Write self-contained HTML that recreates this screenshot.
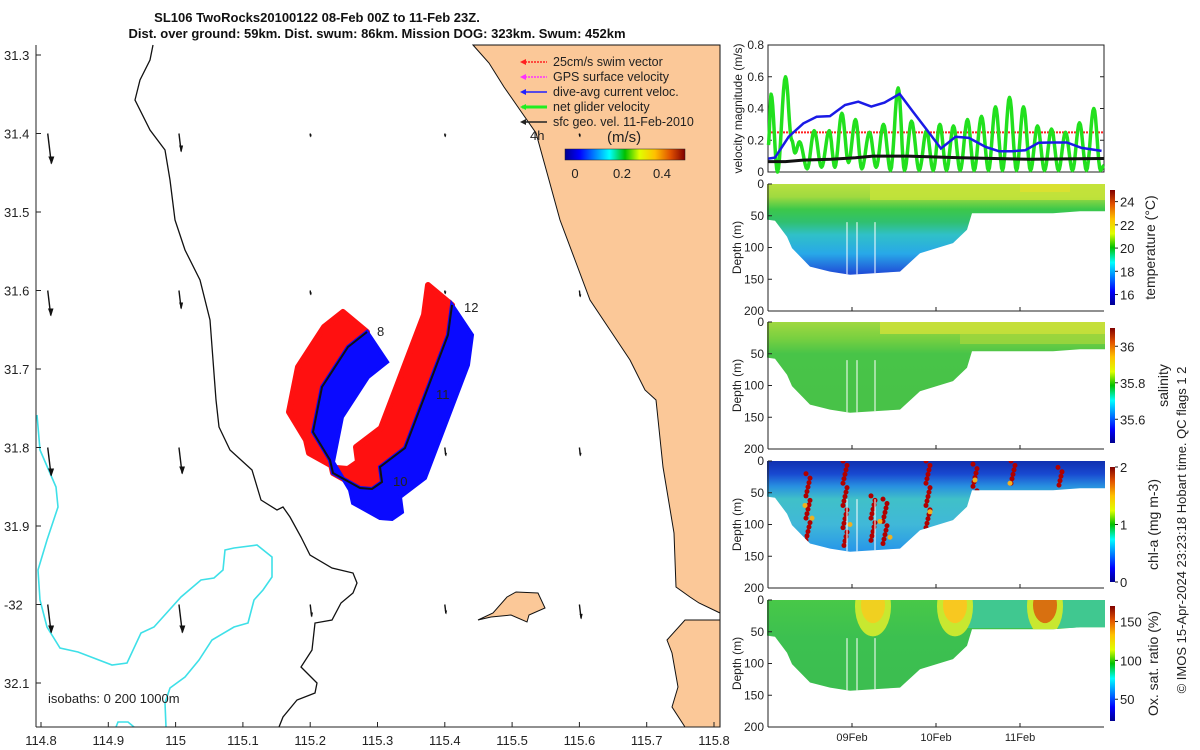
<!DOCTYPE html>
<html><head><meta charset="utf-8"><style>
html,body{margin:0;padding:0;background:#fff;}
svg{display:block;font-family:"Liberation Sans","DejaVu Sans",sans-serif;}
.t{font-size:12px;fill:#222;}
.tm{font-size:13px;fill:#222;}
</style></head><body>
<svg id="fig" width="1200" height="750" viewBox="0 0 1200 750">
<defs>
<linearGradient id="jet" x1="0" y1="1" x2="0" y2="0">
<stop offset="0" stop-color="#00008f"/><stop offset="0.12" stop-color="#0000ff"/><stop offset="0.37" stop-color="#00ffff"/><stop offset="0.5" stop-color="#00c000"/><stop offset="0.62" stop-color="#e0ff00"/><stop offset="0.75" stop-color="#ffc000"/><stop offset="0.88" stop-color="#e05000"/><stop offset="1" stop-color="#800000"/>
</linearGradient>
<linearGradient id="jeth" x1="0" y1="0" x2="1" y2="0">
<stop offset="0" stop-color="#00008f"/><stop offset="0.12" stop-color="#0000ff"/><stop offset="0.37" stop-color="#00ffff"/><stop offset="0.5" stop-color="#00c000"/><stop offset="0.62" stop-color="#e0ff00"/><stop offset="0.75" stop-color="#ffc000"/><stop offset="0.88" stop-color="#e05000"/><stop offset="1" stop-color="#800000"/>
</linearGradient>
</defs>

<text x="317" y="22" text-anchor="middle" font-size="13" font-weight="bold" fill="#111">SL106 TwoRocks20100122 08-Feb 00Z to 11-Feb 23Z.</text>
<text x="377" y="38" text-anchor="middle" font-size="13" font-weight="bold" fill="#111">Dist. over ground: 59km. Dist. swum: 86km. Mission DOG: 323km. Swum: 452km</text>

<g id="map"></g>
<g id="vel"></g>
<g id="sec"></g>

<text transform="translate(1186,530) rotate(-90)" text-anchor="middle" font-size="13" fill="#222">© IMOS 15-Apr-2024 23:23:18 Hobart time. QC flags 1  2</text>
</svg>
<script>
// ---------- velocity data ----------
const greenHours=[0.1,0.9,2.7,5,6.8,7.7,9,11.2,13.2,15.3,17.5,19.1,21.1,23,25,26.8,29,30.9,33,35,37.2,39,41,43.2,45.3,47.2,49.1,51,53,54.9,57,58.9,61,63,65,67,69,71,73,75,77,79,81,83,85,87,89,91,93.1,95,96];
const greenVals=[0.17,0.49,0,0.6,0.2,0.12,0.19,0.02,0.26,0.03,0.26,0.03,0.37,0.06,0.33,0.02,0.25,0.03,0.3,0.01,0.53,0.01,0.32,0.01,0.26,0.01,0.3,0.01,0.29,0.01,0.33,0.01,0.35,0.01,0.41,0.01,0.47,0.01,0.41,0.01,0.29,0.01,0.27,0.01,0.25,0.01,0.31,0.01,0.4,0.01,0.04];
const blueHours=[0.1,2,5.9,10.1,13.9,17.7,22,25.8,29.5,33.3,37.6,41.4,45.1,49.4,53.6,57.4,62.2,66,69.8,73.5,77.3,81.1,85.4,89.6,95.3];
const blueVals=[0.084,0.091,0.222,0.306,0.348,0.352,0.422,0.443,0.412,0.437,0.492,0.38,0.274,0.148,0.222,0.215,0.158,0.131,0.131,0.137,0.184,0.186,0.186,0.152,0.133];
const blackHours=[0,5,10,18,25,30,40,55,75,96];
const blackVals=[0.065,0.065,0.075,0.08,0.09,0.1,0.1,0.09,0.08,0.085];
const swimRef=[0.25];
const velTicks=[0,0.2,0.4,0.6,0.8];
const dayTicks=["09Feb","10Feb","11Feb"];
const dayTickHours=[24,48,72];

const NS='http://www.w3.org/2000/svg';
function mk(tag,attrs,parent){const e=document.createElementNS(NS,tag);for(const k in attrs)e.setAttribute(k,attrs[k]);if(parent)parent.appendChild(e);return e;}

const VX0=768,VX1=1104,VY0=172,VY1=45;
const xH=h=>VX0+h/96*(VX1-VX0);
const yV=v=>VY0-v/0.8*(VY0-VY1);

const vel=document.getElementById('vel');
let r=mk('rect',{x:VX0,y:VY1,width:VX1-VX0,height:VY0-VY1,fill:'#fff',stroke:'#222','stroke-width':1},vel);


velTicks.forEach(v=>{
  mk('line',{x1:VX0,x2:VX0+4,y1:yV(v),y2:yV(v),stroke:'#222'},vel);
  mk('line',{x1:VX1,x2:VX1-4,y1:yV(v),y2:yV(v),stroke:'#222'},vel);
  const t=mk('text',{x:VX0-4,y:yV(v)+4,'text-anchor':'end',class:'t'},vel);t.textContent=String(v);
  
  
});
let yl=mk('text',{transform:`translate(742,${(VY0+VY1)/2}) rotate(-90)`,'text-anchor':'middle',class:'t'},vel);
yl.textContent='velocity magnitude (m/s)';


let rl=mk('line',{x1:VX0,x2:VX1,y1:yV(swimRef[0]),y2:yV(swimRef[0]),stroke:'#f22','stroke-width':2,'stroke-dasharray':'2,1'},vel);


let d='';
for(let i=0;i<greenHours.length-1;i++){
  const h0=greenHours[i],h1=greenHours[i+1],v0=greenVals[i],v1=greenVals[i+1];
  for(let k=0;k<=8;k++){const f=k/8,h=h0+(h1-h0)*f,v=v0+(v1-v0)*(1-Math.cos(Math.PI*f))/2;
    d+=(d?'L':'M')+xH(h).toFixed(1)+','+yV(v).toFixed(1);}
}
let gl=mk('path',{d:d,fill:'none',stroke:'#22e01e','stroke-width':3.5,'stroke-linejoin':'round'},vel);


let bk=mk('polyline',{points:blackHours.map((h,i)=>xH(h)+','+yV(blackVals[i])).join(' '),fill:'none',stroke:'#111','stroke-width':3},vel);


let bl=mk('polyline',{points:blueHours.map((h,i)=>xH(h)+','+yV(blueVals[i])).join(' '),fill:'none',stroke:'#1a1ae6','stroke-width':2.5},vel);



// ---------- section panels ----------
const sec=document.getElementById('sec');
const profX=[767,775,787,792,810,830,850,900,920,953,967,972,1003,1053,1080,1105];
const profD=[56,58,83,101,130,138,143,138,109,93,72,46,46,46,43,43];
const panels=[
 {top:184,name:'temperature',stops:[[0,'#b8e040'],[0.1,'#a0da40'],[0.2,'#3cc84a'],[0.3,'#30c070'],[0.4,'#30c0c8'],[0.55,'#28a8e8'],[0.7,'#2050d8']],
  label:'temperature (°C)',lx:1155,ticks:[16,18,20,22,24],tmin:15.1,tmax:25},
 {top:322,name:'salinity',stops:[[0,'#a0d840'],[0.13,'#78d040'],[0.25,'#48c448'],[1,'#48c048']],
  label:'salinity',lx:1168,ticks:[35.6,35.8,36],tmin:35.47,tmax:36.1},
 {top:461,name:'chl-a',stops:[[0,'#1030b0'],[0.1,'#1848d0'],[0.2,'#2890e0'],[0.3,'#40c0c8'],[0.5,'#40b8d8'],[0.7,'#2898e8']],
  label:'chl-a (mg m-3)',lx:1158,ticks:[0,1,2],tmin:0,tmax:2},
 {top:600,name:'oxygen',stops:[[0,'#48c848'],[0.3,'#3cc050'],[1,'#3cbc50']],
  label:'Ox. sat. ratio (%)',lx:1158,ticks:[50,100,150],tmin:22,tmax:170}
];
const PH=127;
panels.forEach((p,pi)=>{
  const yD=dm=>p.top+dm/200*PH;
  const g=mk('g',{},sec);
  
  
  const gid='g'+pi;
  const lg=mk('linearGradient',{id:gid,x1:0,y1:p.top,x2:0,y2:p.top+PH,gradientUnits:'userSpaceOnUse'},document.querySelector('defs'));
  p.stops.forEach(s=>mk('stop',{offset:s[0],'stop-color':s[1]},lg));
  let pts=`767,${p.top} 1105,${p.top} `+profX.slice().reverse().map((x,i)=>x+','+yD(profD[profD.length-1-i]).toFixed(1)).join(' ');
  const cid='c'+pi;
  const cp=mk('clipPath',{id:cid},document.querySelector('defs'));
  mk('polygon',{points:pts},cp);
  const fg=mk('g',{'clip-path':`url(#${cid})`},g);
  mk('rect',{x:760,y:p.top-2,width:350,height:PH,fill:`url(#${gid})`},fg);
  if(p.name==='temperature'){mk('rect',{x:870,y:p.top,width:240,height:16,fill:'#c8e438',opacity:0.8},fg);mk('rect',{x:1020,y:p.top,width:50,height:8,fill:'#e0e030',opacity:0.8},fg);}
  if(p.name==='salinity'){mk('rect',{x:880,y:p.top,width:230,height:12,fill:'#cce03a',opacity:0.85},fg);mk('rect',{x:960,y:p.top+12,width:150,height:10,fill:'#a0d63c',opacity:0.8},fg);}
  if(p.name==='chl-a'){
    const cols=[[808,20,130],[845,0,135],[873,55,130],[885,60,135],[928,0,115],[975,5,50],[1013,0,40],[1060,10,40]];
    cols.forEach(c=>{for(let dd=c[1];dd<=c[2];dd+=7){mk('circle',{cx:c[0]+((dd*7)%5)-2,cy:yD(dd),r:2.5,fill:'#b00000'},fg);}});
    [[805,70],[812,90],[850,100],[880,95],[890,120],[930,80],[975,30],[1010,35]].forEach(c=>mk('circle',{cx:c[0],cy:yD(c[1]),r:2.5,fill:'#f0b020'},fg));
  }
  if(p.name==='oxygen'){
    mk('rect',{x:955,y:p.top,width:150,height:28,fill:'#40c890'},fg);
    [[873,'#f0d020'],[955,'#f8c820'],[1045,'#d87010']].forEach(b=>{mk('ellipse',{cx:b[0],cy:yD(10),rx:18,ry:30,fill:'#c8e830'},fg);mk('ellipse',{cx:b[0],cy:yD(8),rx:12,ry:18,fill:b[1]},fg);});
  }
  [847,857,875].forEach(x=>mk('line',{x1:x,x2:x,y1:yD(60),y2:yD(145),stroke:'#fff','stroke-width':1},fg));
  mk('line',{x1:VX0,x2:VX1,y1:p.top+PH,y2:p.top+PH,stroke:'#222'},g);
  mk('line',{x1:VX0,x2:VX0,y1:p.top,y2:p.top+PH,stroke:'#222'},g);
  [0,50,100,150,200].forEach(dm=>{
    mk('line',{x1:VX0,x2:VX0+4,y1:yD(dm),y2:yD(dm),stroke:'#222'},g);
    const t=mk('text',{x:VX0-4,y:yD(dm)+4,'text-anchor':'end',class:'t'},g);t.textContent=String(dm);
    
    
  });
  dayTickHours.forEach(h=>mk('line',{x1:xH(h),x2:xH(h),y1:p.top+PH,y2:p.top+PH-4,stroke:'#222'},g));
  const yt=mk('text',{transform:`translate(741,${p.top+PH/2}) rotate(-90)`,'text-anchor':'middle',class:'t'},g);yt.textContent='Depth (m)';
  
  
  const cb0=p.top+6,cb1=p.top+PH-6;
  const cb=mk('rect',{x:1110,y:cb0,width:5,height:cb1-cb0,fill:'url(#jet)'},g);
  
  
  p.ticks.forEach(tv=>{const y=cb1-(tv-p.tmin)/(p.tmax-p.tmin)*(cb1-cb0);
    mk('line',{x1:1115,x2:1118,y1:y,y2:y,stroke:'#222'},g);
    const t=mk('text',{x:1120,y:y+5,class:'tm'},g);t.textContent=String(tv);
    
    });
  const cl=mk('text',{transform:`translate(${p.lx},${p.top+PH/2}) rotate(-90)`,'text-anchor':'middle',class:'tm',style:'font-size:14px'},g);cl.textContent=p.label;
  
  
});
dayTicks.forEach((s,i)=>{const t=mk('text',{x:xH(dayTickHours[i]),y:741,'text-anchor':'middle',class:'t',style:'font-size:11px'},sec);t.textContent=s;
  
  });

// ---------- map ----------
const map=document.getElementById('map');
const lonTicks=[114.8,114.9,115,115.1,115.2,115.3,115.4,115.5,115.6,115.7,115.8];
const latTicks=[31.3,31.4,31.5,31.6,31.7,31.8,31.9,32,32.1];
const MX0=36,MX1=720,MY0=45,MY1=727;
const xL=l=>41+(l-114.8)*673;
const yL=l=>55+(l-31.3)*785;
let coast=mk('polygon',{points:'473,45 489,63 504,87 511,97 520,110 536,133 549,180 560,220 575,260 590,300 610,330 630,360 645,390 656,400 663,467 674,533 676,587 690,597 699,603 720,613 720,620 685,620 667,640 672,653 678,687 672,707 685,727 720,727 720,45',fill:'#fbc898',stroke:'#111','stroke-width':1},map);


let isl=mk('polygon',{points:'478,620 493,613 507,597 516,592 538,593 545,608 529,615 527,622 511,615 491,617',fill:'#fbc898',stroke:'#111','stroke-width':1},map);


let iso=mk('polyline',{points:'153,45 150,60 140,80 135,100 150,130 165,150 170,180 175,220 185,250 200,280 210,320 213,360 216,400 219,427 230,450 252,470 261,500 277,510 283,507 290,517 301,537 310,555 332,568 353,573 357,583 353,593 341,603 332,620 315,623 312,650 301,667 317,683 315,693 297,700 283,717 279,727',fill:'none',stroke:'#111','stroke-width':1.3},map);


let cy1=mk('polyline',{points:'37,415 40,450 56,487 58,507 47,540 38,570 40,600 47,627 60,648 78,652 112,665 127,663 141,633 154,627 181,597 201,580 214,578 223,570 225,550 234,548 257,545 272,557 272,577 263,590 254,600 248,623 234,627 212,640 199,660 185,677 170,688 165,703 166,727',fill:'none',stroke:'#3ee0e8','stroke-width':1.6},map);


mk('polyline',{points:'116,727 118,722 128,722 134,727',fill:'none',stroke:'#3ee0e8','stroke-width':1.6},map);
const arrowLon=[114.81,115.005,115.2,115.4,115.6];
const arrowLat=[31.4,31.6,31.8,32];
const arrowLen=[[30,18,3,3,3],[25,18,4,3,6],[28,26,6,8,8],[28,28,12,9,14]];
arrowLat.forEach((la,j)=>arrowLon.forEach((lo,i)=>{
  const x=xL(lo),y=yL(la),L=arrowLen[j][i];
  const ex=x+L*0.12,ey=y+L;
  mk('line',{x1:x,y1:y,x2:ex,y2:ey,stroke:'#111','stroke-width':1.4},map);
  const hs=Math.min(7,Math.max(2,L/3)),hw=Math.min(3,Math.max(1.2,L/9));
  const a=mk('polygon',{points:`${ex-hw},${ey-hs} ${ex+hw},${ey-hs} ${ex+0.3},${ey+1}`,fill:'#111'},map);
  
  
}));
const trackX=[367,348,322,313,330,333,360,372,382,380,405,432,448,452];
const trackY=[332,347,387,432,460,473,488,489,482,467,448,377,335,305];
const ribbon=(dx,dy)=>trackX.map((x,i)=>x+','+trackY[i]).join(' ')+' '+trackX.slice().reverse().map((x,i)=>(x+dx)+','+(trackY[trackY.length-1-i]+dy)).join(' ');
let red=mk('polygon',{points:ribbon(-24,-20),fill:'#ff1010',stroke:'#ff1010','stroke-width':6,'stroke-linejoin':'round'},map);


let blue=mk('polygon',{points:ribbon(20,30),fill:'#0a0aff',stroke:'#0a0aff','stroke-width':4},map);


let trk=mk('polyline',{points:trackX.map((x,i)=>x+','+trackY[i]).join(' '),fill:'none',stroke:'#111','stroke-width':2},map);


[['8',377,336],['12',464,312],['11',436,399],['10',393,486]].forEach(s=>{const t=mk('text',{x:s[1],y:s[2],class:'tm'},map);t.textContent=s[0];
  
  });
mk('line',{x1:MX0,x2:MX0,y1:MY0,y2:MY1,stroke:'#222'},map);
mk('line',{x1:MX0,x2:MX1,y1:MY1,y2:MY1,stroke:'#222'},map);
lonTicks.forEach(l=>{mk('line',{x1:xL(l),x2:xL(l),y1:MY1,y2:MY1-5,stroke:'#222'},map);
  const t=mk('text',{x:xL(l),y:745,'text-anchor':'middle',class:'tm'},map);t.textContent=String(l);
  
  });
latTicks.forEach(l=>{mk('line',{x1:MX0,x2:MX0+5,y1:yL(l),y2:yL(l),stroke:'#222'},map);
  const t=mk('text',{x:4,y:yL(l)+5,class:'tm'},map);t.textContent=(l===32?'-32':String(l));
  
  });
let isot=mk('text',{x:48,y:703,class:'tm'},map);isot.textContent='isobaths: 0   200  1000m';


const legText=['25cm/s swim vector','GPS surface velocity','dive-avg current veloc.','net glider velocity','sfc geo. vel. 11-Feb-2010'];
const legCol=['#ff2020','#ff30ff','#2020ff','#20ee20','#222'];
legText.forEach((s,i)=>{const y=66+i*15;
  mk('line',{x1:522,x2:547,y1:y-4,y2:y-4,stroke:legCol[i],'stroke-width':i===3?3:1.5,'stroke-dasharray':i<2?'2,1':'none'},map);
  mk('polygon',{points:`520,${y-4} 526,${y-7} 526,${y-1}`,fill:legCol[i]},map);
  const t=mk('text',{x:553,y:y,class:'tm',style:'font-size:12.5px'},map);t.textContent=s;
  
  });
let h4=mk('text',{x:530,y:140,class:'tm'},map);h4.textContent='4h';
let ms=mk('text',{x:607,y:142,class:'tm',style:'font-size:15px'},map);ms.textContent='(m/s)';


let mcb=mk('rect',{x:565,y:149,width:120,height:11,fill:'url(#jeth)',stroke:'#222','stroke-width':0.5},map);


[['0',575],['0.2',622],['0.4',662]].forEach(s=>{const t=mk('text',{x:s[1],y:178,'text-anchor':'middle',class:'tm'},map);t.textContent=s[0];
  
  });
</script>
</body></html>
